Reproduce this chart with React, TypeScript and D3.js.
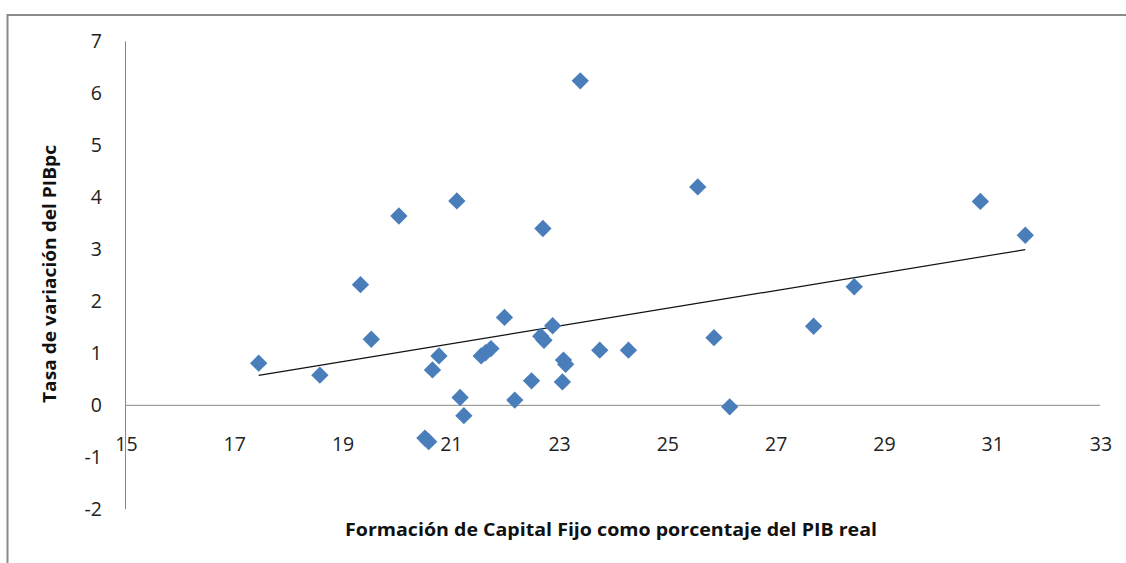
import React from "react";
import * as d3 from "d3";

// Data
const fbcfPct: number[] = [
  17.46, 18.59, 19.34, 19.54, 20.05, 20.53, 20.6, 20.67, 20.79, 21.12, 21.18, 21.25,
  21.57, 21.65, 21.75, 22.0, 22.19, 22.5, 22.67, 22.73, 22.71, 22.89, 23.07, 23.09,
  23.13, 23.4, 23.76, 24.29, 25.57, 25.87, 26.16, 27.71, 28.46, 30.79, 31.62,
];
const pibpcGrowth: number[] = [
  0.81, 0.58, 2.32, 1.27, 3.64, -0.63, -0.7, 0.68, 0.95, 3.93, 0.15, -0.2,
  0.95, 1.01, 1.09, 1.69, 0.1, 0.47, 1.33, 1.25, 3.4, 1.53, 0.45, 0.87,
  0.79, 6.24, 1.06, 1.06, 4.2, 1.3, -0.03, 1.52, 2.28, 3.92, 3.27,
];
const xTicks: number[] = [15, 17, 19, 21, 23, 25, 27, 29, 31, 33];
const yTicks: number[] = [-2, -1, 0, 1, 2, 3, 4, 5, 6, 7];
const xTitle = "Formación de Capital Fijo como porcentaje del PIB real";
const yTitle = "Tasa de variación del PIBpc";

const W = 1126;
const H = 563;
const FONT = "'Open Sans', 'DejaVu Sans', sans-serif";
const AXIS = "#868686";
const MARK = "#4A7EBB";

export default function App() {
  const x = d3.scaleLinear().domain([15, 33]).range([125.5, 1100]);
  const y = d3.scaleLinear().domain([-2, 7]).range([509.3, 41.3]);

  const pts = fbcfPct.map((v, i) => ({ x: v, y: pibpcGrowth[i] }));

  // least-squares linear trend
  const mx = d3.mean(fbcfPct) as number;
  const my = d3.mean(pibpcGrowth) as number;
  let sxy = 0;
  let sxx = 0;
  pts.forEach((p) => {
    sxy += (p.x - mx) * (p.y - my);
    sxx += (p.x - mx) * (p.x - mx);
  });
  const slope = sxy / sxx;
  const icpt = my - slope * mx;
  const [xmin, xmax] = d3.extent(fbcfPct) as [number, number];
  const trend = d3.line<number>()
    .x((d) => x(d))
    .y((d) => y(icpt + slope * d))([xmin, xmax]);

  const diamond = d3.symbol(d3.symbolSquare, 150)() as string;

  return (
    <svg
      width={W}
      height={H}
      style={{ position: "absolute", left: 0, top: 0, display: "block", background: "#fff" }}
    >
      {/* outer chart frame (cropped) */}
      <rect x={7.5} y={15} width={1200} height={600} fill="#fff" stroke="#8a8a8a" strokeWidth={2} />

      {/* axes */}
      <line x1={x(15)} x2={x(15)} y1={y(7)} y2={y(-2)} stroke={AXIS} strokeWidth={1} />
      <line x1={x(15)} x2={x(33)} y1={y(0)} y2={y(0)} stroke={AXIS} strokeWidth={1} />

      {/* y tick labels */}
      {yTicks.map((t) => (
        <text
          key={"y" + t}
          x={102}
          y={y(t)}
          dy="0.35em"
          textAnchor="end"
          fontFamily={FONT}
          fontSize={19.5}
          fill="#222"
        >
          {`${t}`}
        </text>
      ))}

      {/* x tick labels */}
      {xTicks.map((t) => (
        <text
          key={"x" + t}
          x={x(t) + 1}
          y={450.5}
          textAnchor="middle"
          fontFamily={FONT}
          fontSize={19.5}
          fill="#222"
        >
          {`${t}`}
        </text>
      ))}

      {/* trend line */}
      <path d={trend as string} fill="none" stroke="#111" strokeWidth={1.2} />

      {/* points */}
      {pts.map((p, i) => (
        <path
          key={i}
          d={diamond}
          transform={`translate(${x(p.x)},${y(p.y)}) rotate(45)`}
          fill={MARK}
        />
      ))}

      {/* axis titles */}
      <text
        x={611}
        y={536}
        textAnchor="middle"
        fontFamily={FONT}
        fontWeight="bold"
        fontSize={18}
        textLength={532}
        lengthAdjust="spacingAndGlyphs"
        fill="#111"
      >
        {xTitle}
      </text>
      <text
        transform={`translate(56,274) rotate(-90)`}
        textAnchor="middle"
        fontFamily={FONT}
        fontWeight="bold"
        fontSize={18}
        textLength={258}
        lengthAdjust="spacingAndGlyphs"
        fill="#111"
      >
        {yTitle}
      </text>
    </svg>
  );
}
